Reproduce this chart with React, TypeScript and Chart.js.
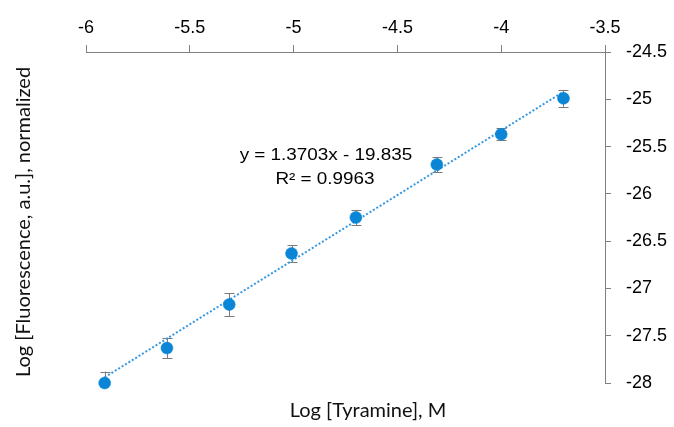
import React, { useEffect, useRef } from 'react';
import { Chart, registerables } from 'chart.js';

Chart.register(...registerables);

// ---- data ----
const logTyramine = [-5.91, -5.61, -5.31, -5.01, -4.70, -4.31, -4.00, -3.70];
const logFluorescence = [-28.00, -27.63, -27.17, -26.63, -26.25, -25.69, -25.37, -24.99];
const errorValues = [0.12, 0.11, 0.12, 0.09, 0.08, 0.08, 0.065, 0.09];
const trendX = [-5.91, -3.70];
const trendY = [-27.94, -24.92];
const xTickValues = [-6, -5.5, -5, -4.5, -4, -3.5];
const yTickValues = [-28, -27.5, -27, -26.5, -26, -25.5, -25, -24.5];
const equationLines = ['y = 1.3703x - 19.835', 'R\u00B2 = 0.9963'];
const xTitle = 'Log [Tyramine], M';
const yTitle = 'Log [Fluorescence, a.u.], normalized';

const POINT_COLOR = '#0B86D6';
const TREND_COLOR = '#3598E2';
const AXIS_COLOR = '#808080';
const ERR_COLOR = '#7a7a7a';
const TICK_FONT = "'Liberation Sans', Arial, sans-serif";
const TITLE_FONT = "Lato, 'Open Sans', sans-serif";

const errorBarPlugin = {
  id: 'errorBars',
  beforeDatasetsDraw(chart: any) {
    const { ctx, chartArea, scales } = chart;
    const xs = scales.x;
    const ys = scales.y;
    ctx.save();
    ctx.beginPath();
    ctx.rect(chartArea.left, chartArea.top, chartArea.right - chartArea.left, chartArea.bottom - chartArea.top);
    ctx.clip();
    ctx.strokeStyle = ERR_COLOR;
    ctx.lineWidth = 1;
    const cap = 5;
    logTyramine.forEach((xv, i) => {
      const px = Math.round(xs.getPixelForValue(xv)) + 0.5;
      const top = ys.getPixelForValue(logFluorescence[i] + errorValues[i]);
      const bot = ys.getPixelForValue(logFluorescence[i] - errorValues[i]);
      ctx.beginPath();
      ctx.moveTo(px, top);
      ctx.lineTo(px, bot);
      ctx.moveTo(px - cap, Math.round(top) + 0.5);
      ctx.lineTo(px + cap, Math.round(top) + 0.5);
      ctx.moveTo(px - cap, Math.round(bot) + 0.5);
      ctx.lineTo(px + cap, Math.round(bot) + 0.5);
      ctx.stroke();
    });
    ctx.restore();
  },
};

const textPlugin = {
  id: 'extraText',
  afterDraw(chart: any) {
    const { ctx } = chart;
    ctx.save();
    ctx.fillStyle = '#000';
    ctx.textAlign = 'center';
    ctx.textBaseline = 'middle';
    // equation
    ctx.font = `16px ${TICK_FONT}`;
    ctx.save();
    ctx.translate(326, 156);
    ctx.scale(1.18, 1);
    ctx.fillText(equationLines[0], 0, 0);
    ctx.restore();
    ctx.save();
    ctx.translate(325, 180);
    ctx.scale(1.18, 1);
    ctx.fillText(equationLines[1], 0, 0);
    ctx.restore();
    // axis titles
    ctx.fillStyle = '#111';
    ctx.font = `20px ${TITLE_FONT}`;
    ctx.fillText(xTitle, 368, 411);
    ctx.save();
    ctx.translate(24, 222);
    ctx.rotate(-Math.PI / 2);
    ctx.fillText(yTitle, 0, 0);
    ctx.restore();
    ctx.restore();
  },
};

export default function App() {
  const ref = useRef<HTMLCanvasElement | null>(null);
  useEffect(() => {
    if (!ref.current) return;
    const chart = new Chart(ref.current, {
      type: 'scatter',
      data: {
        datasets: [
          {
            label: 'trend',
            type: 'line',
            data: trendX.map((x, i) => ({ x, y: trendY[i] })),
            borderColor: TREND_COLOR,
            borderWidth: 2,
            borderDash: [2, 2],
            pointRadius: 0,
            fill: false,
            order: 2,
          } as any,
          {
            label: 'data',
            data: logTyramine.map((x, i) => ({ x, y: logFluorescence[i] })),
            backgroundColor: POINT_COLOR,
            borderColor: POINT_COLOR,
            pointRadius: 6,
            borderWidth: 0.5,
            clip: false,
            order: 1,
          } as any,
        ],
      },
      options: {
        animation: false,
        responsive: false,
        devicePixelRatio: 1,
        layout: { padding: { left: 86, bottom: 44, top: 0, right: 0 } },
        plugins: { legend: { display: false }, tooltip: { enabled: false } },
        scales: {
          x: {
            type: 'linear',
            position: 'top',
            min: -6,
            max: -3.5,
            afterBuildTicks: (s: any) => { s.ticks = xTickValues.map((v) => ({ value: v })); },
            afterFit: (s: any) => { s.height = 52; },
            grid: { drawOnChartArea: false, drawTicks: true, tickLength: 7, color: AXIS_COLOR, lineWidth: 1 },
            border: { display: true, color: AXIS_COLOR, width: 1 },
            ticks: {
              padding: 6,
              color: '#000',
              font: { family: TICK_FONT, size: 18 },
              maxRotation: 0,
              autoSkip: false,
              callback: (v: any) => String(v),
            },
          },
          y: {
            type: 'linear',
            position: 'right',
            min: -28,
            max: -24.5,
            afterBuildTicks: (s: any) => { s.ticks = yTickValues.map((v) => ({ value: v })); },
            afterFit: (s: any) => { s.width = 69; },
            grid: { drawOnChartArea: false, drawTicks: true, tickLength: 6, color: AXIS_COLOR, lineWidth: 1 },
            border: { display: true, color: AXIS_COLOR, width: 1 },
            ticks: {
              padding: 15,
              color: '#000',
              font: { family: TICK_FONT, size: 18 },
              autoSkip: false,
              callback: (v: any) => String(v),
            },
          },
        },
      },
      plugins: [errorBarPlugin, textPlugin],
    } as any);
    return () => chart.destroy();
  }, []);
  return (
    <div style={{ position: 'fixed', left: 0, top: 0, width: 674, height: 427, background: '#fff' }}>
      <canvas ref={ref} width={674} height={427} style={{ display: 'block', width: 674, height: 427 }} />
    </div>
  );
}
